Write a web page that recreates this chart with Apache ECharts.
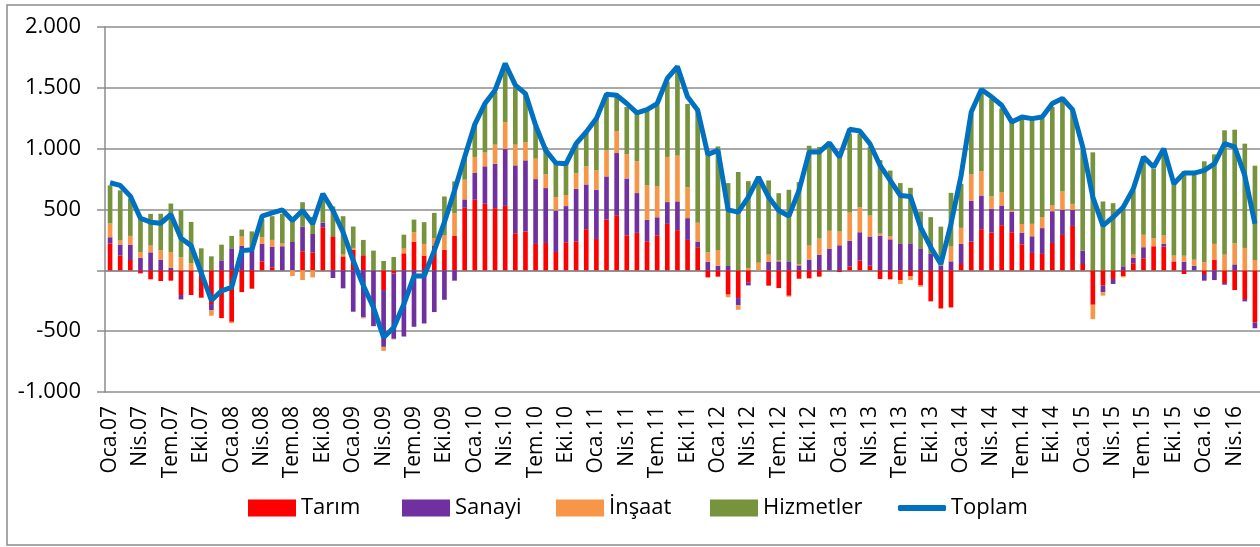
<!DOCTYPE html>
<html>
<head>
<meta charset="utf-8">
<script src="https://cdn.jsdelivr.net/npm/echarts@6/dist/echarts.min.js"></script>
<style>
  html, body { margin: 0; padding: 0; background: #fff; }
  #chart { width: 1260px; height: 547px; }
</style>
</head>
<body>
<div id="chart"></div>
<script>
// aylar Oca.07 - Haz.16
var monthNames = ['Oca', 'Şub', 'Mar', 'Nis', 'May', 'Haz', 'Tem', 'Ağu', 'Eyl', 'Eki', 'Kas', 'Ara'];
var startYear = 2007;
var monthCount = 114;

var tarim = [222, 121, 85, -25, -74, -88, -85, -203, -203, -225, -277, -393, -423, -179, -151, 74, 25, 0, 0, 157,
    148, 354, 280, 115, 170, 124, 0, -162, -25, 140, 236, 121, 200, 168, 286, 514, 580, 547, 511, 530,
    305, 319, 217, 225, 151, 231, 239, 338, 258, 418, 453, 288, 308, 239, 288, 382, 330, 250, 190, -58,
    -52, -200, -228, -102, 0, -126, -146, -209, -69, -66, -52, 0, -14, 30, 80, 38, -71, -74, -80, -47,
    -124, -255, -310, -305, 52, 236, 338, 310, 371, 313, 214, 143, 135, 225, 291, 365, 52, -283, -126, -71,
    -47, 58, 99, 198, 195, 69, -30, 0, -30, 88, -104, -162, -236, -429];
var sanayi = [50, 91, 124, 104, 148, 88, 22, -36, 0, 0, -52, 82, 181, 203, 163, 143, 170, 198, 233, 203,
    151, 38, -63, -148, -340, -387, -459, -467, -538, -544, -464, -437, -343, -242, -85, 69, 220, 308, 365, 467,
    558, 585, 533, 451, 341, 297, 431, 368, 404, 354, 511, 467, 327, 176, 148, 179, 237, 179, 47, 71,
    38, 36, -60, -22, 0, 69, 74, 74, 41, 88, 129, 179, 206, 214, 233, 240, 286, 255, 217, 222,
    181, 135, 38, 74, 165, 335, 277, 195, 162, 168, 96, 137, 212, 261, 206, 132, 110, 0, -55, -41,
    33, 44, 91, 0, 22, 5, 71, 38, -55, -80, -14, 49, -19, -47];
var insaat = [113, 33, 74, 47, 55, 77, 129, 107, 60, 0, -44, 0, -11, 74, 0, 55, 55, 22, -47, -80,
    -58, 0, 0, 14, 14, -8, 0, -33, -5, 38, 77, 96, 66, 118, 184, 162, 132, 113, 157, 220,
    170, 148, 168, 113, 110, 91, 129, 148, 159, 214, 181, 200, 261, 283, 253, 371, 376, 255, 154, 77,
    129, -22, -36, 19, 63, 60, 11, -8, 11, 115, 132, 146, 113, 231, 206, 172, 16, 27, -33, -33,
    -11, 0, -8, 121, 132, 217, 200, 104, 110, 11, 71, 102, 91, 47, 151, 49, 0, -118, -27, 0,
    -11, 27, 102, 66, 69, 47, 49, 49, 66, 129, 129, 173, 184, 85];
var hizmetler = [313, 412, 305, 272, 261, 300, 398, 387, 338, 181, 115, 129, 102, 58, 157, 151, 195, 245, 203, 200,
    140, 230, 245, 316, 176, 126, 162, 77, 110, 115, 104, 179, 206, 321, 261, 187, 268, 403, 434, 430,
    475, 387, 261, 225, 288, 258, 228, 283, 426, 453, 280, 387, 393, 618, 668, 618, 730, 684, 926, 805,
    851, 681, 808, 714, 680, 610, 549, 588, 673, 821, 753, 690, 613, 648, 604, 563, 604, 538, 500, 456,
    302, 302, 321, 442, 363, 500, 665, 802, 687, 728, 865, 865, 810, 810, 750, 769, 824, 970, 566, 552,
    472, 527, 613, 571, 709, 590, 695, 706, 830, 736, 1022, 934, 857, 775];
var toplam = [720, 698, 610, 428, 396, 387, 459, 264, 203, -20, -248, -168, -140, 162, 170, 445, 472, 497, 409, 492,
    382, 629, 492, 313, 80, -126, -305, -552, -470, -277, -47, -47, 162, 396, 657, 931, 1200, 1371, 1481, 1700,
    1522, 1453, 1192, 986, 882, 876, 1041, 1137, 1247, 1448, 1439, 1371, 1294, 1321, 1371, 1577, 1675, 1426, 1316, 953,
    986, 497, 478, 602, 766, 602, 492, 445, 657, 972, 972, 1047, 931, 1159, 1145, 1040, 862, 739, 615, 607,
    354, 190, 52, 382, 780, 1302, 1486, 1426, 1357, 1220, 1261, 1247, 1261, 1371, 1412, 1321, 1014, 602, 368, 437,
    519, 670, 931, 849, 1000, 711, 799, 799, 821, 876, 1041, 1014, 780, 382];

var categories = [];
for (var i = 0; i < monthCount; i++) {
    var yy = (startYear + Math.floor(i / 12)) % 100;
    categories.push(monthNames[i % 12] + '.' + (yy < 10 ? '0' + yy : yy));
}

var gridColor = '#8c8c8c';
var font = 'Open Sans';

function barSeries(name, data, color) {
    return {
        name: name,
        type: 'bar',
        stack: 'sektor',
        barWidth: '46%',
        data: data,
        itemStyle: { color: color },
        emphasis: { disabled: true }
    };
}

function legendAt(name, left, isLine) {
    return {
        data: [name],
        left: left,
        top: 492,
        icon: isLine ? 'roundRect' : 'rect',
        itemWidth: 48,
        itemHeight: isLine ? 6 : 17,
        textStyle: { fontFamily: font, fontSize: 22, color: '#000' },
        selectedMode: false
    };
}

var chart = echarts.init(document.getElementById('chart'));

var option = {
    animation: false,
    backgroundColor: '#fff',
    graphic: [{
        type: 'rect',
        shape: { x: 7, y: 5, width: 1300, height: 540 },
        style: { fill: 'none', stroke: gridColor, lineWidth: 1.5 },
        silent: true
    }],
    legend: [
        legendAt('Tarım', 243),
        legendAt('Sanayi', 397),
        legendAt('İnşaat', 551),
        legendAt('Hizmetler', 705),
        legendAt('Toplam', 893, true)
    ],
    grid: {
        left: 105,
        right: 0,
        top: 27,
        bottom: 155,
        containLabel: false
    },
    xAxis: [{
        type: 'category',
        data: categories,
        axisLine: { onZero: true, lineStyle: { color: gridColor, width: 1.5 } },
        axisTick: { interval: 2, length: 5, lineStyle: { color: gridColor, width: 1.5 } },
        axisLabel: { show: false },
        splitLine: { show: false }
    }, {
        type: 'category',
        data: categories,
        position: 'bottom',
        axisLine: { show: false, onZero: false },
        axisTick: { show: false },
        axisLabel: {
            interval: 2,
            rotate: 90,
            margin: 14,
            fontFamily: font,
            fontSize: 21,
            color: '#000'
        }
    }],
    yAxis: {
        type: 'value',
        min: -1000,
        max: 2000,
        interval: 500,
        axisLine: { show: true, lineStyle: { color: gridColor, width: 1.5 } },
        axisTick: { show: true, length: 8, lineStyle: { color: gridColor, width: 1.5 } },
        splitLine: { lineStyle: { color: gridColor, width: 1.5 } },
        axisLabel: {
            margin: 24,
            fontFamily: font,
            fontSize: 22,
            color: '#000',
            formatter: function (v) {
                if (v === 0) return '';
                var s = Math.abs(v).toString();
                if (s.length > 3) s = s.slice(0, s.length - 3) + '.' + s.slice(-3);
                return (v < 0 ? '-' : '') + s;
            }
        }
    },
    series: [
        barSeries('Tarım', tarim, '#FF0000'),
        barSeries('Sanayi', sanayi, '#7030A0'),
        barSeries('İnşaat', insaat, '#F79646'),
        barSeries('Hizmetler', hizmetler, '#77933C'),
        {
            name: 'Toplam',
            type: 'line',
            data: toplam,
            symbol: 'none',
            z: 5,
            itemStyle: { color: '#0070C0' },
            lineStyle: { color: '#0070C0', width: 5 },
            emphasis: { disabled: true }
        }
    ]
};

chart.setOption(option);
</script>
</body>
</html>
